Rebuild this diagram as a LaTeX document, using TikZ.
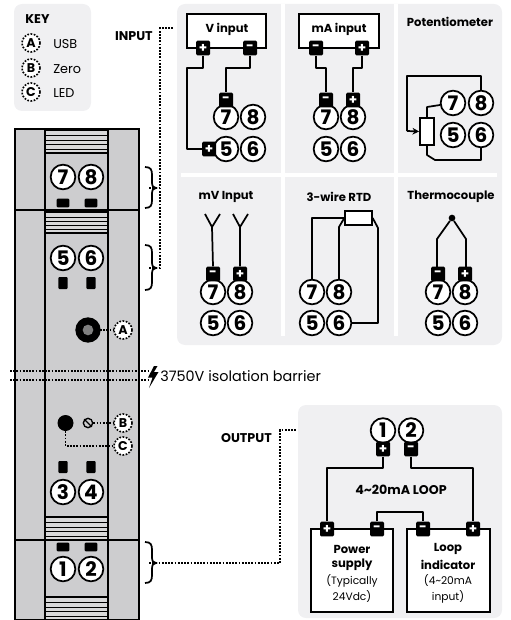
\documentclass[tikz,border=0pt]{standalone}
\usepackage{fontspec}
\setmainfont{Poppins}
\usetikzlibrary{calc,arrows.meta}
\definecolor{panel}{HTML}{F0F0F2}
\definecolor{devgray}{HTML}{CDCDCF}
\definecolor{stripe}{HTML}{D8D8D9}
\tikzset{
  wire/.style={line width=1.3pt,line join=round},
  boxs/.style={draw=black,line width=1.3pt,fill=white},
  term/.style={circle,draw=black,line width=1.3pt,fill=white,minimum size=18.5pt,inner sep=0pt,font=\fontsize{15}{15}\selectfont\bfseries},
  blk/.style={fill=black,text=white,rounded corners=1pt,minimum width=10.5pt,minimum height=11pt,inner sep=0pt,font=\fontsize{10}{10}\selectfont\bfseries},
  pad/.style={fill=black,rounded corners=0.8pt,inner sep=0pt},
  dots/.style={line width=1.2pt,dash pattern=on 1.3pt off 1.1pt},
  keyc/.style={circle,draw=black,dots,fill=white,minimum size=13.5pt,inner sep=0pt,font=\fontsize{9.5}{9.5}\selectfont\bfseries},
  lab/.style={font=\fontsize{8.7}{9}\selectfont\bfseries,inner sep=0pt},
  biglab/.style={font=\fontsize{9.5}{10}\selectfont\bfseries,inner sep=0pt},
  txt/.style={font=\fontsize{8}{9}\selectfont,inner sep=0pt},
  keyt/.style={font=\fontsize{9.6}{10}\selectfont,inner sep=0pt,anchor=west},
  panelbg/.style={fill=panel,rounded corners=6pt},
  gap/.style={line width=3pt,white},
  devl/.style={draw=black,line width=1.4pt,fill=devgray},
}
\begin{document}
\begin{tikzpicture}[x=0.75pt,y=-0.75pt]
\useasboundingbox (0,0) rectangle (510,620);
% panels
\fill[panelbg] (14,4) rectangle (91,111);
\fill[panelbg] (177,4) rectangle (502,345);
\fill[panelbg] (298,405) rectangle (502,618);
\draw[gap] (283,4) -- (283,336);
\draw[gap] (396,4) -- (396,336);
\draw[gap] (181,175) -- (497,175);
% key
\node[biglab] (keyt) at (37.5,19.5) {KEY};
\node[keyc] (ka) at (31,43) {A}; \node[keyt] (kat) at (53,44.5) {USB};
\node[keyc] (kb) at (31,68) {B}; \node[keyt] (kbt) at (53,69.5) {Zero};
\node[keyc] (kc) at (31,92) {C}; \node[keyt] (kct) at (53,93.5) {LED};
% device
\path[devl] (15,129) rectangle (139,620);
\path[devl] (45,129) rectangle (108,620);
\draw[line width=1.4pt] (15,210) -- (139,210);
\draw[line width=1.4pt] (15,540) -- (139,540);
\foreach \t/\h in {130/23,212/21,517/23,597/23}{
  \fill[stripe] (45,\t) rectangle (108,\t+\h);
  \foreach \k in {0,0.25,0.45,0.65,0.85,1}{
    \draw[line width=0.8pt] (45,\t+\k*\h) -- (108,\t+\k*\h);
  }
}
\draw[line width=1.4pt] (45,129) -- (45,620) (108,129) -- (108,620);
\node[term] (d7) at (63,177) {7}; \node[term] (d8) at (91,177) {8};
\node[pad,minimum width=9.5pt,minimum height=6.5pt] (p7) at (63,203) {}; \node[pad,minimum width=9.5pt,minimum height=6.5pt] (p8) at (91,203) {};
\node[term] (d5) at (63,258) {5}; \node[term] (d6) at (91,258) {6};
\node[pad,minimum width=7pt,minimum height=9pt] (p5) at (63,283) {}; \node[pad,minimum width=7pt,minimum height=9pt] (p6) at (91,283) {};
\node[term] (d3) at (63,492) {3}; \node[term] (d4) at (91,492) {4};
\node[pad,minimum width=7pt,minimum height=9pt] (p3) at (63,467) {}; \node[pad,minimum width=7pt,minimum height=9pt] (p4) at (91,467) {};
\node[term] (d1) at (63,569) {1}; \node[term] (d2) at (91,569) {2};
\node[pad,minimum width=9.5pt,minimum height=6.5pt] (p1) at (63,547) {}; \node[pad,minimum width=9.5pt,minimum height=6.5pt] (p2) at (91,547) {};
% USB, LED, zero
\node[circle,fill=black,minimum size=19pt,inner sep=0pt] (usb) at (88,330) {};
\node[circle,fill=gray,minimum size=8pt,inner sep=0pt] (usbi) at (88,330) {};
\node[keyc] (da) at (123,330) {A};
\draw[dots] (usbi) -- (da);
\node[circle,fill=black,minimum size=12pt,inner sep=0pt] (led) at (65.5,423) {};
\node[circle,draw=black,line width=1pt,fill=devgray,minimum size=7pt,inner sep=0pt] (scr) at (88,423) {};
\draw[line width=1pt] (scr.north west) -- (scr.south east);
\node[keyc] (db) at (123,423) {B};
\node[keyc] (dc) at (123,446) {C};
\draw[dots] (scr) -- (db);
\draw[dots] (led.south) |- (dc);
% barrier
\coordinate (ba1) at (10,371); \coordinate (ba2) at (148,371);
\coordinate (bb1) at (10,380); \coordinate (bb2) at (148,380);
\draw[dots] (ba1) -- (ba2);
\draw[dots] (bb1) -- (bb2);
\fill (154,366) -- (148,377.5) -- (152.5,377.5) -- (149,388) -- (158.5,372) -- (154,372) -- (157.5,366) -- cycle;
\node[txt,anchor=west,font=\fontsize{10.8}{11}\selectfont] (bt) at (160,376) {3750V isolation barrier};
% braces
\foreach \t/\m/\b in {167/188/208,245/268/290,542/563/583}{
  \draw[line width=1.3pt] (145,\t) .. controls (151,\t) and (152,\t+3) .. (152,\t+8) -- (152,\m-6)
    .. controls (152,\m-2) and (153,\m) .. (156,\m) .. controls (153,\m) and (152,\m+2) .. (152,\m+6)
    -- (152,\b-8) .. controls (152,\b-3) and (151,\b) .. (145,\b);
}
% input / output leads
\coordinate (b1) at (149,188); \coordinate (b2) at (149,268); \coordinate (b3) at (149,563);
\coordinate (ij) at (160,188); \coordinate (ic) at (160,28); \coordinate (ie) at (174,28);
\coordinate (oc1) at (280,563); \coordinate (oc2) at (280,430); \coordinate (oe) at (296,430);
\draw[dots] (b2) -- (160,268) -- (ic) -- (ie);
\draw[dots] (b1) -- (ij);
\draw[dots] (b3) -- (oc1) -- (oc2) -- (oe);
\node[biglab,anchor=east] (inl) at (153,36) {INPUT};
\node[biglab,anchor=east] (oul) at (272,438) {OUTPUT};
% V input
\node[boxs,minimum width=59pt,minimum height=25.5pt,inner sep=0pt] (vbox) at (226.5,31) {};
\node[lab] (vt) at (227,29) {V input};
\node[blk] (vp) at (203,48) {+}; \node[blk] (vm) at (250,48) {-};
\node[term] (v7) at (226,117) {7}; \node[term] (v8) at (253,117) {8};
\node[term] (v5) at (226,149) {5}; \node[term] (v6) at (253,149) {6};
\node[blk] (vm7) at (226,100) {-}; \node[blk] (vp5) at (209,149) {+};
\draw[wire] (vp) -- (203,68) -- (187,68) -- (187,149) -- (vp5);
\draw[wire] (vm) -- (250,68) -- (226,68) -- (vm7);
% mA input
\node[boxs,minimum width=60pt,minimum height=25.5pt,inner sep=0pt] (mbox) at (339,31) {};
\node[lab] (mt) at (339,29) {mA input};
\node[blk] (mm) at (316,48) {-}; \node[blk] (mp) at (362,48) {+};
\node[term] (m7) at (326,117) {7}; \node[term] (m8) at (353,117) {8};
\node[term] (m5) at (326,149) {5}; \node[term] (m6) at (353,149) {6};
\node[blk] (mm7) at (326,100) {-}; \node[blk] (mp8) at (353,100) {+};
\draw[wire] (mm) -- (316,68) -- (326,68) -- (mm7);
\draw[wire] (mp) -- (362,68) -- (353,68) -- (mp8);
% Potentiometer
\node[lab] (pt) at (450,22) {Potentiometer};
\node[term] (q7) at (453,103) {7}; \node[term] (q8) at (481,103) {8};
\node[term] (q5) at (453,135) {5}; \node[term] (q6) at (481,135) {6};
\node[boxs,minimum width=10.5pt,minimum height=20pt,inner sep=0pt] (pr) at (427,131.5) {};
\draw[wire] (q8) -- (481,76) -- (407,76) -- (407,131);
\draw[wire,->,>={Stealth[length=5pt,width=5pt]}] (407,131) -- (pr.west);
\draw[wire] (q7) -- (427,107) -- (pr.north);
\draw[wire] (pr.south) -- (427,155) -- (435,160) -- (481,160) -- (q6);
% mV
\node[lab] (mvt) at (226,197) {mV Input};
\node[term] (n7) at (213,292) {7}; \node[term] (n8) at (240,292) {8};
\node[term] (n5) at (213,323) {5}; \node[term] (n6) at (240,323) {6};
\node[blk] (nm) at (213,274) {-}; \node[blk] (np) at (240,274) {+};
\coordinate (ny1) at (212,227); \coordinate (ny2) at (240,227);
\draw[wire] (nm.north) -- (ny1) -- (205,214) (ny1) -- (220,214);
\draw[wire] (np.north) -- (ny2) -- (233,214) (ny2) -- (248,214);
% RTD
\node[lab] (rt) at (339,197) {3-wire RTD};
\node[term] (r7) at (312,292) {7}; \node[term] (r8) at (339,292) {8};
\node[term] (r5) at (312,323) {5}; \node[term] (r6) at (339,323) {6};
\node[boxs,minimum width=20pt,minimum height=10.5pt,inner sep=0pt] (rr) at (358.5,218) {};
\draw[wire] (r7) -- (312,218) -- (rr.west);
\draw[wire] (r8) -- (339,227) -- (rr.west);
\draw[wire] (rr.east) -- (378,228) -- (378,323) -- (r6);
% Thermocouple
\node[lab] (tt) at (451,197) {Thermocouple};
\node[term] (t7) at (438,292) {7}; \node[term] (t8) at (465,292) {8};
\node[term] (t5) at (438,323) {5}; \node[term] (t6) at (465,323) {6};
\node[blk] (tm) at (438,274) {-}; \node[blk] (tp) at (465,274) {+};
\node[circle,fill=black,minimum size=5pt,inner sep=0pt] (tj) at (452,218) {};
\draw[wire] (tj) -- (437,239) -- (437,268);
\draw[wire] (tj) -- (466,239) -- (466,268);
% Output
\node[term] (o1) at (383,430.5) {1}; \node[term] (o2) at (411,430.5) {2};
\node[boxs,minimum width=61.5pt,minimum height=62pt,inner sep=0pt] (ps) at (352,570.5) {};
\node[boxs,minimum width=62pt,minimum height=62pt,inner sep=0pt] (li) at (448.5,570.5) {};
\node[blk] (op) at (383,449) {+}; \node[blk] (om) at (411,449) {-};
\node[blk] (a1) at (327,529) {+}; \node[blk] (a2) at (377,529) {-};
\node[blk] (a3) at (423,529) {-}; \node[blk] (a4) at (473,529) {+};
\draw[wire] (op) -- (383,468) -- (327,468) -- (a1);
\draw[wire] (om) -- (411,468) -- (473,468) -- (a4);
\draw[wire] (a2) -- (377,512) -- (423,512) -- (a3);
\node[biglab] (lp) at (401,490) {4\textasciitilde20mA LOOP};
\node[lab] (ps1) at (352,549) {Power};
\node[lab] (ps2) at (352,565) {supply};
\node[txt] (ps3) at (352,581) {(Typically};
\node[txt] (ps4) at (352,597) {24Vdc)};
\node[lab] (li1) at (448,549) {Loop};
\node[lab] (li2) at (448,565) {indicator};
\node[txt] (li3) at (448,581) {(4\textasciitilde20mA};
\node[txt] (li4) at (448,597) {input)};
\end{tikzpicture}
\end{document}
